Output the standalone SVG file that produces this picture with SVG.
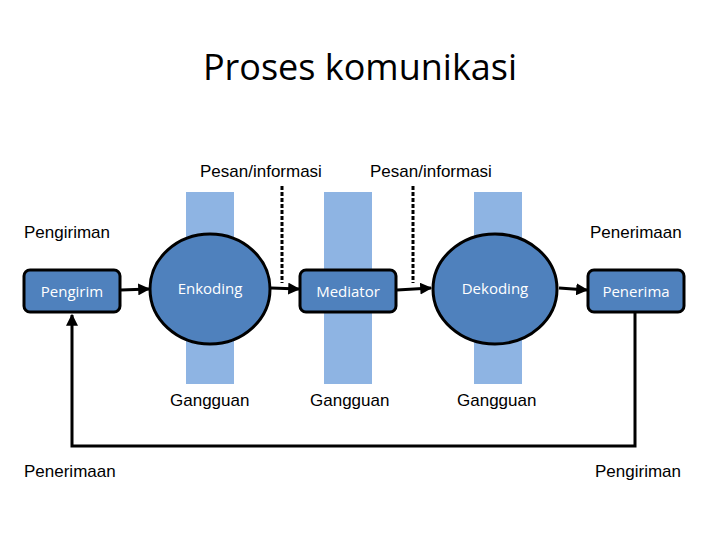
<svg xmlns="http://www.w3.org/2000/svg" width="720" height="540" viewBox="0 0 720 540">
<defs>
<marker id="ah" viewBox="0 0 10 10" refX="9" refY="5" markerWidth="4" markerHeight="4" orient="auto"><path d="M0,0L10,5L0,10z" fill="#000"/></marker>
<style>
.bar{fill:#8eb4e3}
.node{fill:#4f81bd;stroke:#000;stroke-width:3}
.nt{font-family:"Open Sans","Liberation Sans",sans-serif;font-size:15px;fill:#fff;text-anchor:middle}
.lb{font-family:"Liberation Sans",Arial,sans-serif;font-size:17px;fill:#000}
.c{stroke:#000;stroke-width:3;fill:none}
</style>
</defs>
<rect width="720" height="540" fill="#fff"/>
<text x="360" y="80" text-anchor="middle" font-family="'Open Sans','Liberation Sans',sans-serif" font-size="36">Proses komunikasi</text>
<rect class="bar" x="186" y="192" width="48" height="192"/>
<rect class="bar" x="324" y="192" width="48" height="192"/>
<rect class="bar" x="474" y="192" width="48" height="192"/>
<g id="connectors">
<line class="c" x1="282" y1="186" x2="282" y2="283" stroke-dasharray="4,2"/>
<line class="c" x1="413" y1="186" x2="413" y2="283" stroke-dasharray="4,2"/>
<line class="c" x1="121" y1="290" x2="149" y2="289" marker-end="url(#ah)"/>
<line class="c" x1="271" y1="288" x2="299" y2="289" marker-end="url(#ah)"/>
<line class="c" x1="397" y1="290" x2="431" y2="288" marker-end="url(#ah)"/>
<line class="c" x1="559" y1="288" x2="587" y2="290" marker-end="url(#ah)"/>
<polyline class="c" points="635,313 635,446 72,446 72,315" marker-end="url(#ah)"/>
</g>
<g id="pengirim"><rect class="node" x="24" y="270" width="96" height="42" rx="6"/><text class="nt" x="72" y="297">Pengirim</text></g>
<g id="enkoding"><ellipse class="node" cx="210" cy="289" rx="60" ry="55"/><text class="nt" x="210" y="294">Enkoding</text></g>
<g id="mediator"><rect class="node" x="300" y="270" width="96" height="42" rx="6"/><text class="nt" x="348" y="297">Mediator</text></g>
<g id="dekoding"><ellipse class="node" cx="495" cy="289" rx="62" ry="55"/><text class="nt" x="495" y="294">Dekoding</text></g>
<g id="penerima"><rect class="node" x="588" y="270" width="96" height="42" rx="6"/><text class="nt" x="636" y="297">Penerima</text></g>
<text class="lb" x="200" y="177">Pesan/informasi</text>
<text class="lb" x="370" y="177">Pesan/informasi</text>
<text class="lb" x="24" y="238">Pengiriman</text>
<text class="lb" x="590" y="238">Penerimaan</text>
<text class="lb" x="170" y="406">Gangguan</text>
<text class="lb" x="310" y="406">Gangguan</text>
<text class="lb" x="457" y="406">Gangguan</text>
<text class="lb" x="24" y="477">Penerimaan</text>
<text class="lb" x="595" y="477">Pengiriman</text>
</svg>
